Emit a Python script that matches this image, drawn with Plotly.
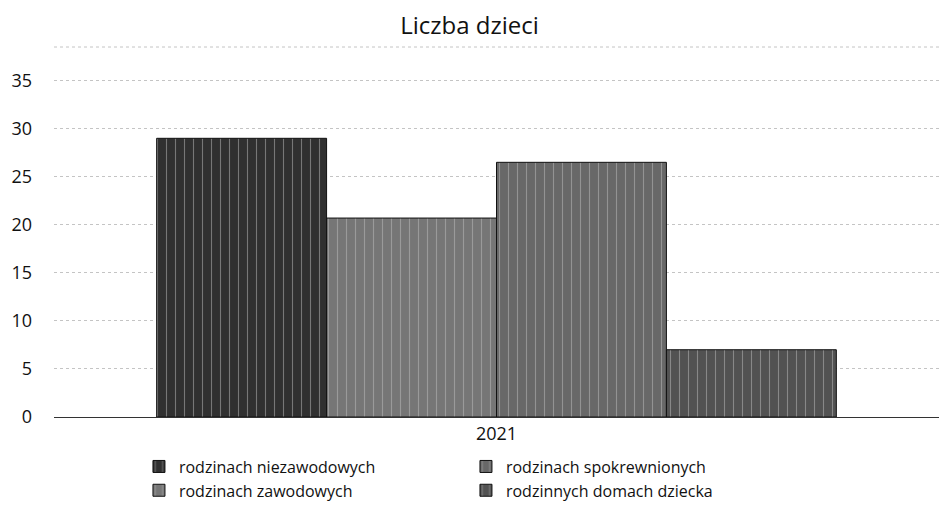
import plotly.graph_objects as go

categories = ["2021"]
series_names = ["rodzinach niezawodowych", "rodzinach zawodowych",
                "rodzinach spokrewnionych", "rodzinnych domach dziecka"]
series_values = [[29], [20.7], [26.5], [7]]
legend_ranks = [1, 3, 2, 4]
colors = ["#303030", "#767676", "#686868", "#525252"]
y_ticks = [0, 5, 10, 15, 20, 25, 30, 35]

FONT = "Open Sans"

fig = go.Figure()
for name, vals, rank, col in zip(series_names, series_values, legend_ranks, colors):
    fig.add_trace(go.Bar(
        x=categories, y=vals, name=name, legendrank=rank,
        marker=dict(color=col, line=dict(color="#111111", width=1),
                    pattern=dict(shape="|", fgcolor="#bdbdbd", size=9, solidity=0.12)),
    ))

fig.update_layout(
    width=939, height=513,
    paper_bgcolor="white", plot_bgcolor="white",
    margin=dict(l=54, r=0, t=47, b=96),
    barmode="group", bargap=0.232, bargroupgap=0,
    title=dict(text="Liczba dzieci", x=0.5, xref="container", xanchor="center",
               y=0.951, yanchor="middle",
               font=dict(family=FONT, size=24, color="#111111")),
    font=dict(family=FONT, size=16, color="#111111"),
    showlegend=True,
    legend=dict(orientation="h", x=0.096, xanchor="left", y=-0.088, yanchor="top",
                entrywidth=282, entrywidthmode="pixels", traceorder="normal",
                font=dict(family=FONT, size=16, color="#111111"),
                itemclick=False, tracegroupgap=0),
    xaxis=dict(showline=True, linecolor="#333333", linewidth=1, showgrid=False,
               ticks="", tickfont=dict(size=18)),
    yaxis=dict(range=[0, 38.5], tickvals=y_ticks, showgrid=True, gridcolor="#c4c4c4",
               griddash="dot", gridwidth=1, zeroline=False, showline=False,
               ticklabelstandoff=21, tickfont=dict(size=18)),
)
fig.add_shape(type="line", xref="paper", yref="paper", x0=0, x1=1, y0=1, y1=1,
              line=dict(color="#c4c4c4", width=1, dash="dot"))

fig.write_html("out.html", config={"displayModeBar": False},
               post_script="document.body.style.margin = '0';")
